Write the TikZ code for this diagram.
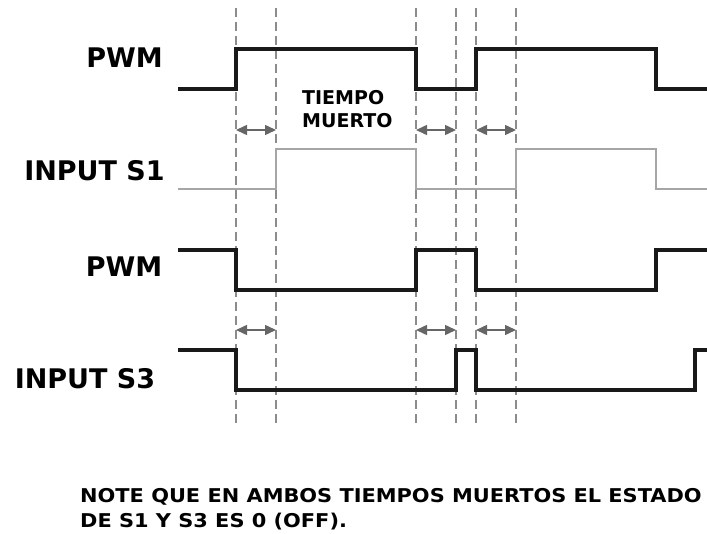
\documentclass[tikz,border=0pt]{standalone}
\usepackage{fontspec}
\setmainfont{DejaVu Sans}
\newfontfamily\notafont[FakeStretch=1.1]{DejaVu Sans}
\usetikzlibrary{arrows.meta}
\begin{document}
\begin{tikzpicture}[x=1pt, y=-1pt,
    senal/.style={line width=3.4pt, black!90},
    senalgris/.style={line width=2.4pt, black!35},
    guia/.style={black!45, line width=1.8pt, dash pattern=on 9pt off 5pt},
    muerto/.style={{Triangle[length=11pt,width=10pt]}-{Triangle[length=11pt,width=10pt]}, black!60, line width=1.5pt},
    etiqueta/.style={font=\fontsize{27}{30}\selectfont\bfseries, inner sep=0pt}]
    \useasboundingbox (0,0) rectangle (707,533);

    % Lineas guia de los tiempos muertos
    \foreach \t in {236,276,416,456,476,516}
        \draw[guia] (\t,8) -- (\t,425);

    % Senales
    \draw[senal] (178,89) -- (236,89) -- (236,49) -- (416,49) -- (416,89) -- (476,89) -- (476,49) -- (656,49) -- (656,89) -- (707,89);
    \draw[senalgris] (178,189) -- (276,189) -- (276,149) -- (416,149) -- (416,189) -- (516,189) -- (516,149) -- (656,149) -- (656,189) -- (707,189);
    \draw[senal] (178,250) -- (236,250) -- (236,290) -- (416,290) -- (416,250) -- (476,250) -- (476,290) -- (656,290) -- (656,250) -- (707,250);
    \draw[senal] (178,350) -- (236,350) -- (236,390) -- (456,390) -- (456,350) -- (476,350) -- (476,390) -- (695,390) -- (695,350) -- (707,350);

    % Flechas de tiempo muerto
    \foreach \a/\b in {236/276, 416/456, 476/516} {
        \draw[muerto] (\a,130) -- (\b,130);
        \draw[muerto] (\a,330) -- (\b,330);
    }

    % Etiquetas
    \node[etiqueta] (pwmA) at (124.5,58) {PWM};
    \node[etiqueta] (inS1) at (94.5,171) {INPUT S1};
    \node[etiqueta] (pwmB) at (124,267) {PWM};
    \node[etiqueta] (inS3) at (85,379) {INPUT S3};
    \node[anchor=north west, inner sep=0pt, align=left, font=\fontsize{19}{23}\selectfont\bfseries] (tm) at (302,90) {TIEMPO\\MUERTO};

    % Nota
    \node[anchor=north west, inner sep=0pt, align=left, font=\notafont\fontsize{19}{25}\selectfont\bfseries] (nota) at (80,488)
        {NOTE QUE EN AMBOS TIEMPOS MUERTOS EL ESTADO\\DE S1 Y S3 ES 0 (OFF).};
\end{tikzpicture}
\end{document}
